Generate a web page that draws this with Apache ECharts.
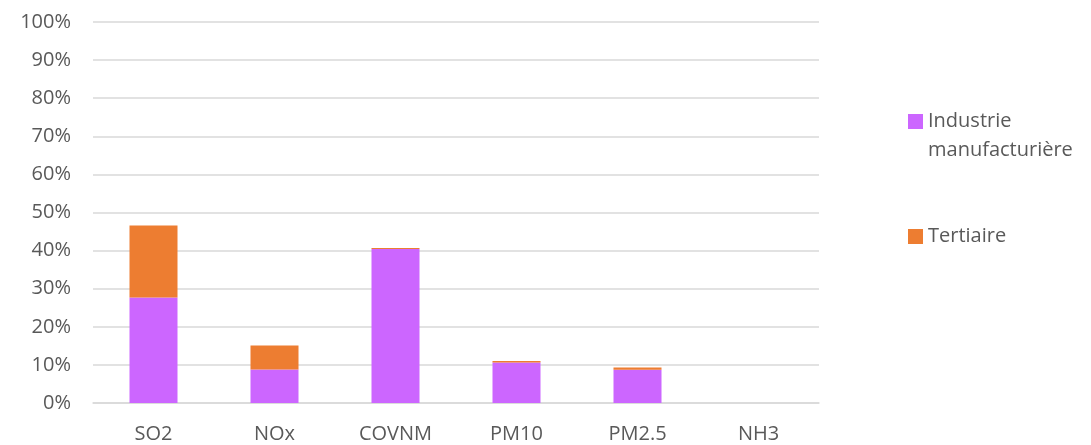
<!DOCTYPE html>
<html>
<head>
<meta charset="utf-8">
<script src="https://cdn.jsdelivr.net/npm/echarts@6/dist/echarts.min.js"></script>
<style>
  html, body { margin: 0; padding: 0; background: #fff; }
  #chart { width: 1091px; height: 445px; }
</style>
</head>
<body>
<div id="chart"></div>
<script>
// Pollutants on the x axis
const categories = ['SO2', 'NOx', 'COVNM', 'PM10', 'PM2.5', 'NH3'];
// Share of emissions per sector, in percent
const industrieValues = [27.7, 8.8, 40.4, 10.6, 8.7, 0];
const tertiaireValues = [18.9, 6.3, 0.3, 0.4, 0.6, 0];
const seriesNames = ['Industrie\nmanufacturière', 'Tertiaire'];

const FONT = '"Open Sans", "Noto Sans", sans-serif';
const TEXT = '#595959';
const GRID = '#d9d9d9';

const chart = echarts.init(document.getElementById('chart'), null, { renderer: 'canvas' });

chart.setOption({
  animation: false,
  backgroundColor: '#ffffff',
  textStyle: { fontFamily: FONT },
  grid: { left: 93, right: 272, top: 22, bottom: 42, containLabel: false },
  legend: [
    {
      data: [seriesNames[0]],
      orient: 'vertical',
      left: 908,
      top: 78,
      padding: 0,
      itemWidth: 15,
      itemHeight: 15,
      itemGap: 0,
      icon: 'rect',
      // a blank leading line keeps the first text line level with the swatch
      formatter: name => ' \n' + name,
      textStyle: { color: TEXT, fontSize: 20, fontFamily: FONT, lineHeight: 29 }
    },
    {
      data: [seriesNames[1]],
      orient: 'vertical',
      left: 908,
      top: 222,
      padding: 0,
      itemWidth: 15,
      itemHeight: 15,
      icon: 'rect',
      textStyle: { color: TEXT, fontSize: 20, fontFamily: FONT, lineHeight: 29 }
    }
  ],
  xAxis: {
    type: 'category',
    data: categories,
    axisLine: { show: true, lineStyle: { color: GRID, width: 1.5 } },
    axisTick: { show: false },
    axisLabel: { color: TEXT, fontSize: 20, fontFamily: FONT, margin: 21 },
    splitLine: { show: false }
  },
  yAxis: {
    type: 'value',
    min: 0,
    max: 100,
    interval: 10,
    axisLine: { show: false },
    axisTick: { show: false },
    axisLabel: { color: TEXT, fontSize: 20, fontFamily: FONT, margin: 22, formatter: '{value}%' },
    splitLine: { show: true, lineStyle: { color: GRID, width: 1.5 } }
  },
  series: [
    {
      name: seriesNames[0],
      type: 'bar',
      stack: 'total',
      barWidth: 48,
      itemStyle: { color: '#cc66ff' },
      data: industrieValues
    },
    {
      name: seriesNames[1],
      type: 'bar',
      stack: 'total',
      barWidth: 48,
      itemStyle: { color: '#ed7d31' },
      data: tertiaireValues
    }
  ]
});
</script>
</body>
</html>
